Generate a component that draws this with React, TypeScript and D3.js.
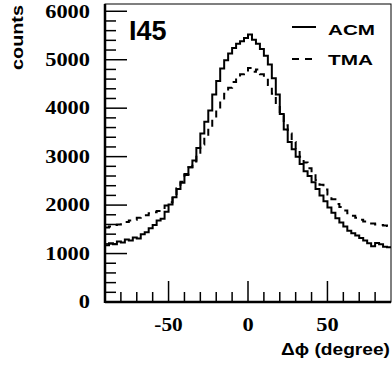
import React from "react";
import * as d3 from "d3";

// bin layout: 72 bins of 2.5 degrees from -90 to 90
const binLow = -90;
const binWidth = 2.5;

const acmCounts = [
  1170, 1210, 1190, 1250, 1230, 1290, 1270, 1330, 1310, 1400, 1440, 1520,
  1590, 1680, 1720, 1860, 2010, 2160, 2330, 2460, 2640, 2780, 2920, 3180,
  3480, 3720, 3950, 4280, 4560, 4820, 4990, 5130, 5240, 5330, 5380, 5450,
  5520, 5410, 5330, 5220, 5080, 4900, 4620, 4280, 3880, 3560, 3300, 3150,
  3000, 2850, 2700, 2600, 2470, 2330, 2200, 2080, 1950, 1840, 1730, 1640,
  1560, 1470, 1420, 1370, 1320, 1270, 1210, 1150, 1220, 1190, 1140, 1130,
];

const tmaCounts = [
  1540, 1560, 1590, 1600, 1630, 1650, 1680, 1700, 1740, 1760, 1790, 1830,
  1850, 1880, 1920, 1990, 2060, 2200, 2350, 2480, 2620, 2780, 2900, 3080,
  3250, 3420, 3600, 3780, 3980, 4160, 4300, 4420, 4540, 4620, 4700, 4780,
  4830, 4750, 4800, 4700, 4620, 4480, 4300, 4050, 3850, 3650, 3480, 3300,
  3150, 3000, 2880, 2760, 2640, 2520, 2420, 2320, 2220, 2120, 2020, 1960,
  1890, 1830, 1780, 1740, 1700, 1660, 1640, 1620, 1600, 1590, 1580, 1570,
];

const xMajorTicks = [-50, 0, 50];
const yMajorTicks = [0, 1000, 2000, 3000, 4000, 5000, 6000];

const W = 392;
const H = 368;
const frame = { left: 105, right: 391, top: 4, bottom: 302 };

const x = d3.scaleLinear().domain([-90, 90]).range([frame.left, frame.right]);
const y = d3.scaleLinear().domain([0, 6150]).range([frame.bottom, frame.top]);

function stepPath(counts: number[]) {
  const pts: [number, number][] = counts.map((c, i) => [binLow + i * binWidth, c]);
  pts.push([binLow + counts.length * binWidth, counts[counts.length - 1]]);
  return d3
    .line<[number, number]>()
    .x((d) => x(d[0]))
    .y((d) => y(d[1]))
    .curve(d3.curveStepAfter)(pts) as string;
}

const serif = "'Liberation Serif', 'Times New Roman', serif";
const sans = "'Liberation Sans', Arial, Helvetica, sans-serif";

// the original labels are rendered wide; stretch them to the measured width
const labelWidth = (s: string) =>
  s.split("").reduce((w, ch) => w + (ch === "-" ? 6 : 11.2), 0);

export default function App() {
  const xMinor = d3.range(-80, 90, 10);
  const yMinor = d3.range(200, 6150, 200);

  return (
    <svg
      width={W}
      height={H}
      style={{ position: "absolute", left: 0, top: 0, background: "#fff" }}
    >
      {/* histograms */}
      <path d={stepPath(tmaCounts)} fill="none" stroke="#000" strokeWidth={2} strokeDasharray="7,6" />
      <path d={stepPath(acmCounts)} fill="none" stroke="#000" strokeWidth={2} />

      {/* frame */}
      <rect
        x={frame.left}
        y={frame.top}
        width={frame.right - frame.left}
        height={frame.bottom - frame.top}
        fill="none"
        stroke="#000"
        strokeWidth={1}
      />
      <line x1={frame.left} x2={frame.left} y1={frame.top} y2={frame.bottom + 1} stroke="#000" strokeWidth={2.5} />
      <line x1={frame.left} x2={frame.right} y1={frame.bottom} y2={frame.bottom} stroke="#000" strokeWidth={2.5} />

      {/* y ticks */}
      {yMinor.map((v) => (
        <line key={"ym" + v} x1={frame.left} x2={frame.left + (v % 1000 === 0 ? 22 : 11)} y1={y(v)} y2={y(v)} stroke="#000" strokeWidth={1.5} />
      ))}
      {yMajorTicks.map((v) => (
        <text
          key={"yl" + v}
          x={90}
          y={y(v)}
          dy="0.35em"
          textAnchor="end"
          fontFamily={serif}
          fontWeight="bold"
          fontSize={18}
          textLength={labelWidth(String(v))}
          lengthAdjust="spacingAndGlyphs"
        >
          {v}
        </text>
      ))}

      {/* x ticks */}
      {xMinor.map((v) => (
        <line key={"xm" + v} x1={x(v)} x2={x(v)} y1={frame.bottom} y2={frame.bottom - (v % 50 === 0 ? 21 : 10)} stroke="#000" strokeWidth={1.5} />
      ))}
      {xMajorTicks.map((v) => (
        <text
          key={"xl" + v}
          x={x(v)}
          y={325}
          dy="0.35em"
          textAnchor="middle"
          fontFamily={serif}
          fontWeight="bold"
          fontSize={18}
          textLength={labelWidth(String(v))}
          lengthAdjust="spacingAndGlyphs"
        >
          {v}
        </text>
      ))}

      {/* axis titles */}
      <text
        x={390}
        y={355}
        textAnchor="end"
        fontFamily={sans}
        fontWeight="bold"
        fontSize={17}
        textLength={109}
        lengthAdjust="spacingAndGlyphs"
      >
        Δϕ (degree)
      </text>
      <text
        transform="translate(23,5) rotate(-90)"
        textAnchor="end"
        fontFamily={sans}
        fontWeight="bold"
        fontSize={17}
        textLength={65}
        lengthAdjust="spacingAndGlyphs"
      >
        counts
      </text>

      {/* panel label */}
      <text x={129} y={40} fontFamily={sans} fontWeight="bold" fontSize={27}>
        I45
      </text>

      {/* legend */}
      <line x1={292} x2={316} y1={27} y2={27} stroke="#000" strokeWidth={2} />
      <text x={328} y={35} fontFamily={sans} fontWeight="bold" fontSize={15} textLength={47} lengthAdjust="spacingAndGlyphs">
        ACM
      </text>
      <line x1={292} x2={316} y1={59} y2={59} stroke="#000" strokeWidth={2} strokeDasharray="7,6" />
      <text x={328} y={65} fontFamily={sans} fontWeight="bold" fontSize={15} textLength={45} lengthAdjust="spacingAndGlyphs">
        TMA
      </text>
    </svg>
  );
}
